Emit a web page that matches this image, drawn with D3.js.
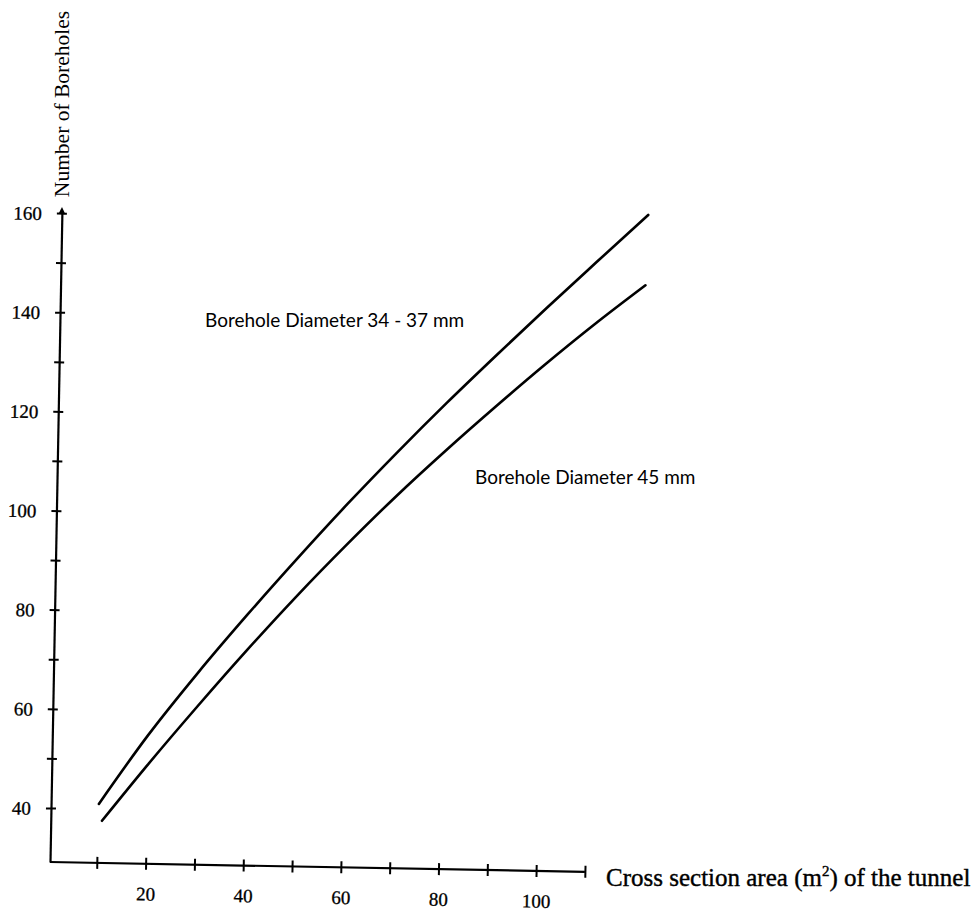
<!DOCTYPE html>
<html>
<head>
<meta charset="utf-8">
<script src="https://cdn.jsdelivr.net/npm/d3@7"></script>
<style>
  html, body { margin: 0; padding: 0; background: #fff; }
  svg { display: block; }
</style>
</head>
<body>
<svg id="chart" width="976" height="913"></svg>
<script>
// ---- data ----
const xTickValues = [10, 20, 30, 40, 50, 60, 70, 80, 90, 100, 110];
const xTickLabels = [20, 40, 60, 80, 100];
const yTickValues = [40, 50, 60, 70, 80, 90, 100, 110, 120, 130, 140, 150, 160];
const yTickLabels = [40, 60, 80, 100, 120, 140, 160];

// Borehole diameter 34 - 37 mm (upper curve)
const areaSmall   = [10.2, 20, 30, 40, 50, 60, 70, 80, 90, 100, 110, 120.5];
const holesSmall  = [41.0, 55.0, 67.8, 79.8, 91.3, 102.4, 113.0, 123.2, 133.0, 142.6, 152.0, 161.8];

// Borehole diameter 45 mm (lower curve)
const areaLarge   = [10.9, 20, 30, 40, 50, 60, 70, 80, 90, 100, 110, 120.2];
const holesLarge  = [37.6, 49.0, 61.0, 72.6, 83.7, 94.2, 104.2, 113.6, 122.6, 131.3, 139.6, 147.6];

const labelSmall = "Borehole Diameter 34 - 37 mm";
const labelLarge = "Borehole Diameter 45 mm";
const yTitle = "Number of Boreholes";

// ---- layout ----
const svg = d3.select("#chart");
const origin = {x: 50, y: 862};
const tilt = 1.05; // the scanned figure is slightly rotated

const x = d3.scaleLinear().domain([0, 110]).range([-2, 535]);
const y = d3.scaleLinear().domain([29.1, 160]).range([0, -649]);

const g = svg.append("g")
  .attr("transform", `translate(${origin.x},${origin.y}) rotate(${tilt})`);

const tickFont = "'Liberation Serif', 'Times New Roman', serif";

// y axis
const yAxis = d3.axisLeft(y)
  .tickValues(yTickValues)
  .tickSizeOuter(0)
  .tickSizeInner(5)
  .tickFormat(d => yTickLabels.includes(d) ? d : "");
const ya = g.append("g").call(yAxis);
ya.select(".domain").attr("stroke", "#000").attr("stroke-width", 2.2);
ya.selectAll(".tick line").attr("x1", 5).attr("x2", -5).attr("stroke", "#000").attr("stroke-width", 2);
ya.selectAll(".tick text")
  .attr("x", -20).attr("dy", "0.35em")
  .attr("font-family", tickFont).attr("font-size", 19).attr("fill", "#000")
  .attr("stroke", "#000").attr("stroke-width", 0.3);

// small arrow head at top of y axis
g.append("path")
  .attr("d", `M0,${y(160) - 6} L-3.5,${y(160) + 1} L3.5,${y(160) + 1} Z`)
  .attr("fill", "#000");

// x axis
const xAxis = d3.axisBottom(x)
  .tickValues(xTickValues)
  .tickSizeOuter(0)
  .tickSizeInner(5)
  .tickFormat(d => xTickLabels.includes(d) ? d : "");
const xa = g.append("g").call(xAxis);
xa.select(".domain").attr("d", `M0,0H${x(110)}`).attr("stroke", "#000").attr("stroke-width", 2.2);
xa.selectAll(".tick line").attr("y1", -6).attr("y2", 6).attr("stroke", "#000").attr("stroke-width", 2);
xa.selectAll(".tick text")
  .attr("y", 30).attr("dy", "0.35em")
  .attr("font-family", tickFont).attr("font-size", 19).attr("fill", "#000")
  .attr("stroke", "#000").attr("stroke-width", 0.3);

// curves
const line = d3.line()
  .x(d => x(d[0]))
  .y(d => y(d[1]))
  .curve(d3.curveMonotoneX);

g.append("path")
  .datum(d3.zip(areaSmall, holesSmall))
  .attr("d", line)
  .attr("fill", "none").attr("stroke", "#000").attr("stroke-width", 2.6)
  .attr("stroke-linecap", "round");

g.append("path")
  .datum(d3.zip(areaLarge, holesLarge))
  .attr("d", line)
  .attr("fill", "none").attr("stroke", "#000").attr("stroke-width", 2.6)
  .attr("stroke-linecap", "round");

// annotations
const annFont = "Lato, 'Open Sans', sans-serif";
svg.append("text")
  .attr("x", 205).attr("y", 327)
  .attr("font-family", annFont).attr("font-size", 19).attr("fill", "#000")
  .text(labelSmall);
svg.append("text")
  .attr("x", 475).attr("y", 484)
  .attr("font-family", annFont).attr("font-size", 19).attr("fill", "#000")
  .text(labelLarge);

// y axis title
svg.append("text")
  .attr("transform", "translate(69,104) rotate(-90)")
  .attr("text-anchor", "middle")
  .attr("font-family", tickFont).attr("font-size", 21.5).attr("fill", "#000")
  .text(yTitle);

// x axis title
const xt = svg.append("text")
  .attr("x", 606).attr("y", 886)
  .attr("font-family", tickFont).attr("font-size", 25).attr("fill", "#000")
  .attr("stroke", "#000").attr("stroke-width", 0.4);
xt.append("tspan").text("Cross section area (m");
xt.append("tspan").attr("font-size", 15).attr("dy", -10).text("2");
xt.append("tspan").attr("dy", 10).text(") of the tunnel");
</script>
</body>
</html>
